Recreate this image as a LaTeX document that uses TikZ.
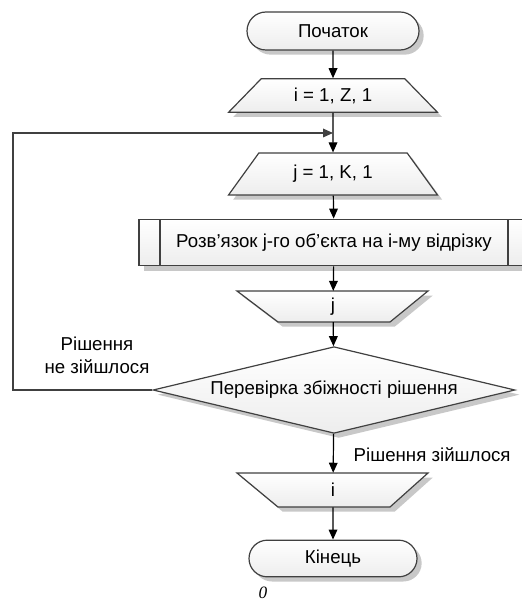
\documentclass[tikz,border=0pt]{standalone}
\usepackage{fontspec}
\setmainfont{Liberation Sans}
\newfontfamily\serifit{Liberation Serif}
\usepackage{xcolor}
\usetikzlibrary{arrows.meta,shapes.geometric,shapes.misc,shadows}
\definecolor{edge}{HTML}{404040}
\definecolor{shade}{HTML}{C8C8C8}
\definecolor{filltop}{HTML}{FFFFFF}
\definecolor{fillbot}{HTML}{EDEDED}
\tikzset{
  blk/.style={draw=edge, line width=0.9pt, top color=filltop, bottom color=fillbot,
    drop shadow={fill=shade, opacity=1, shadow xshift=3.5pt, shadow yshift=-3.5pt},
    inner sep=0pt, font=\fontsize{14}{17}\selectfont},
  term/.style={blk, rounded rectangle, minimum width=129pt, minimum height=28.5pt},
  loopbox/.style={blk, trapezium, trapezium stretches=true, minimum width=157pt,
    trapezium left angle=#1, trapezium right angle=#1},
  outtext/.style={inner sep=0pt, minimum width=20pt, font=\fontsize{14}{17}\selectfont},
  proc/.style={blk, rectangle, minimum width=292.5pt, minimum height=35pt,
    path picture={
      \draw[edge, line width=0.9pt] ([xshift=15.75pt]path picture bounding box.north west)
        -- ([xshift=15.75pt]path picture bounding box.south west);
      \draw[edge, line width=0.9pt] ([xshift=-15.75pt]path picture bounding box.north east)
        -- ([xshift=-15.75pt]path picture bounding box.south east);}},
  dec/.style={blk, diamond, aspect=4, minimum width=271.5pt, minimum height=65pt},
  arr/.style={draw=black, line width=0.9pt, -{Triangle[length=7.5pt,width=6.5pt]}},
  lab/.style={font=\fontsize{14}{17}\selectfont, align=center},
}
\begin{document}
\begin{tikzpicture}[x=0.75pt,y=-0.75pt]
  \useasboundingbox (0,0) rectangle (521,602);
  % output blocks (inverted trapezia)
  \path[blk] (237,291) -- (428,291) -- (390,322) -- (278,322) -- cycle;
  \path[blk] (237,473) -- (428,473) -- (390,507) -- (278,507) -- cycle;
  % blocks of the scheme
  \node[term] (start) at (333,31) {Початок};
  \node[loopbox=42, minimum height=25pt] (fori) at (333,95.5) {i = 1, Z, 1};
  \node[loopbox=47, minimum height=31.5pt] (forj) at (333,174) {j = 1, K, 1};
  \node[proc] (solve) at (334,242.5) {Розв’язок j-го об'єкта на і-му відрізку};
  \node[outtext, minimum height=23pt] (outj) at (333,306.5) {j};
  \node[dec] (check) at (334,390) {Перевірка збіжності рішення};
  \node[outtext, minimum height=25.5pt] (outi) at (333,490) {і};
  \node[term, minimum width=126pt, minimum height=27.5pt] (stop) at (333,558.5) {Кінець};
  \coordinate (merge) at (333,133);
  \coordinate (loopcorner) at (13,133);
  % connectors
  \draw[arr] (start) -- (fori);
  \draw[arr] (fori) -- (forj);
  \draw[arr] (forj) -- (solve);
  \draw[arr] (solve) -- (outj);
  \draw[arr] (outj) -- (check);
  \draw[arr] (check) -- (outi);
  \draw[arr] (outi) -- (stop);
  \draw[arr, draw=edge] (check.west) -| (loopcorner) -- (merge);
  % labels
  \node[lab] (nolab) at (97,355) {Рішення\\не зійшлося};
  \node[lab, anchor=west] (yeslab) at (349,455) {Рішення зійшлося};
  \node[font=\serifit\itshape\fontsize{13}{15}\selectfont] (zero) at (263,593) {0};
\end{tikzpicture}
\end{document}
